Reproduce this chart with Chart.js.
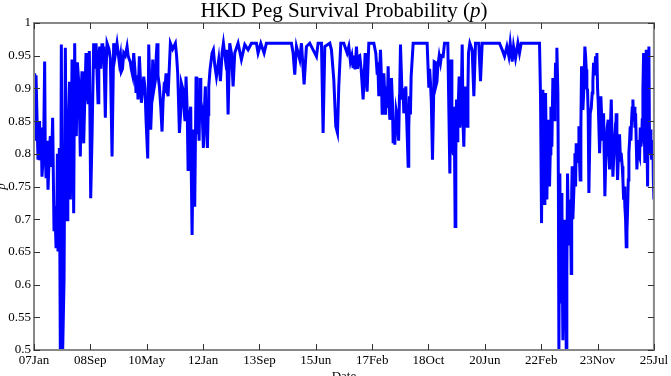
<!DOCTYPE html>
<html lang="en">
<head>
  <meta charset="UTF-8" />
  <title>HKD Peg Survival Probability</title>
  <script src="https://cdn.jsdelivr.net/npm/chart.js"></script>
  <style>
    html, body { margin: 0; padding: 0; background: #fff; }
    #wrap { width: 671px; height: 376px; }
  </style>
</head>
<body>
  <div id="wrap"><canvas id="pegChart" width="671" height="376"></canvas></div>

  <script>
    // date labels under the x ticks (one tick per unit of position)
    const tickLabels = ['07Jan', '08Sep', '10May', '12Jan', '13Sep', '15Jun',
                        '17Feb', '18Oct', '20Jun', '22Feb', '23Nov', '25Jul'];

    // main readings: peaks and troughs, position in tick units (0 = 07Jan, 11 = 25Jul)
    const pos = [
      0, 0.012, 0.036, 0.071, 0.112, 0.142, 0.189, 0.213, 0.249, 0.290, 0.331, 0.355, 0.391, 0.426, 0.450,
      0.467, 0.485, 0.509, 0.533, 0.556, 0.586, 0.615, 0.645, 0.675, 0.704, 0.722, 0.751, 0.793, 0.822,
      0.852, 0.882, 0.923, 0.959, 0.982,
      1.006, 1.030, 1.059, 1.101, 1.136, 1.166, 1.207, 1.237, 1.266, 1.296, 1.355, 1.385, 1.414, 1.473,
      1.515, 1.550, 1.592, 1.651, 1.692, 1.728, 1.769, 1.811, 1.846, 1.870, 1.905, 1.947, 1.988,
      2.018, 2.036, 2.071, 2.107, 2.154, 2.183, 2.225, 2.272, 2.308, 2.343, 2.379, 2.420, 2.509, 2.550,
      2.580, 2.615, 2.657, 2.698, 2.734, 2.781, 2.805, 2.828, 2.852, 2.876, 2.911, 2.947, 2.982,
      3.006, 3.041, 3.077, 3.101, 3.124, 3.160, 3.183, 3.207, 3.237, 3.278, 3.308, 3.337, 3.361, 3.396,
      3.420, 3.444, 3.473, 3.503, 3.533, 3.562, 3.621, 3.680, 3.740, 3.799, 3.858, 3.947, 3.976,
      4.024, 4.083, 4.124, 4.568, 4.598, 4.627, 4.657, 4.716, 4.746, 4.793, 4.834, 4.893, 4.953,
      5.012, 5.041, 5.101, 5.130, 5.160, 5.249, 5.278, 5.320, 5.355, 5.385, 5.408, 5.444, 5.497, 5.556,
      5.586, 5.615, 5.663, 5.698, 5.722, 5.763, 5.805, 5.840, 5.876, 5.911, 5.941,
      6.030, 6.065, 6.089, 6.118, 6.148, 6.178, 6.207, 6.231, 6.254, 6.284, 6.314, 6.343, 6.373, 6.402,
      6.426, 6.456, 6.485, 6.503, 6.533, 6.562, 6.598, 6.621, 6.639, 6.663, 6.692, 6.728, 6.976,
      7.006, 7.036, 7.071, 7.101, 7.130, 7.166, 7.213, 7.260, 7.284, 7.343, 7.379, 7.402, 7.426, 7.450,
      7.473, 7.497, 7.521, 7.544, 7.568, 7.598, 7.627, 7.657, 7.686, 7.710, 7.734, 7.775, 7.805, 7.834,
      7.893, 7.923, 7.953,
      8.260, 8.308, 8.349, 8.391, 8.426, 8.450, 8.485, 8.509, 8.544, 8.586, 8.615, 8.645, 8.970, 8.988,
      9.006, 9.030, 9.053, 9.077, 9.101, 9.124, 9.148, 9.172, 9.189, 9.207, 9.231, 9.254, 9.278, 9.296,
      9.314, 9.331, 9.349, 9.367, 9.385, 9.408, 9.426, 9.444, 9.467, 9.491, 9.515, 9.533, 9.550, 9.574,
      9.598, 9.621, 9.645, 9.669, 9.692, 9.716, 9.740, 9.775, 9.799, 9.822, 9.846, 9.870, 9.905, 9.929,
      9.964, 9.988,
      10.012, 10.036, 10.059, 10.083, 10.107, 10.130, 10.154, 10.189, 10.213, 10.243, 10.272, 10.308,
      10.331, 10.355, 10.379, 10.402, 10.438, 10.462, 10.485, 10.509, 10.533, 10.556, 10.580, 10.604,
      10.627, 10.651, 10.675, 10.698, 10.722, 10.746, 10.769, 10.793, 10.817, 10.840, 10.864, 10.888,
      10.911, 10.935, 10.959, 10.982, 11.0
    ];

    const p = [
      0.878, 0.923, 0.920, 0.791, 0.827, 0.765, 0.941, 0.765, 0.745, 0.827, 0.855, 0.684, 0.658, 0.653, 0.809,
      0.500, 0.967, 0.500, 0.607, 0.962, 0.699, 0.857, 0.730, 0.944, 0.709, 0.969, 0.827, 0.911, 0.796,
      0.926, 0.816, 0.954, 0.878, 0.957,
      0.732, 0.827, 0.969, 0.969, 0.878, 0.964, 0.969, 0.964, 0.855, 0.969, 0.946, 0.796, 0.969, 0.969,
      0.939, 0.926, 0.954, 0.964, 0.944, 0.929, 0.954, 0.893, 0.883, 0.949, 0.878, 0.918, 0.852,
      0.793, 0.967, 0.837, 0.944, 0.913, 0.969, 0.903, 0.834, 0.903, 0.923, 0.888, 0.969, 0.969, 0.923,
      0.832, 0.908, 0.872, 0.918, 0.776, 0.872, 0.676, 0.837, 0.719, 0.918, 0.867, 0.916, 0.867,
      0.809, 0.903, 0.809, 0.903, 0.929, 0.954, 0.959, 0.936, 0.918, 0.944, 0.911, 0.954, 0.969, 0.944,
      0.959, 0.860, 0.969, 0.954, 0.903, 0.954, 0.969, 0.944, 0.967, 0.959, 0.969, 0.969, 0.954,
      0.969, 0.954, 0.969, 0.969, 0.954, 0.921, 0.964, 0.944, 0.969, 0.906, 0.964, 0.969, 0.959,
      0.949, 0.969, 0.969, 0.832, 0.964, 0.969, 0.959, 0.913, 0.842, 0.832, 0.903, 0.969, 0.969, 0.954,
      0.964, 0.941, 0.931, 0.929, 0.964, 0.949, 0.929, 0.883, 0.954, 0.895, 0.969,
      0.969, 0.954, 0.923, 0.888, 0.959, 0.862, 0.923, 0.862, 0.903, 0.934, 0.852, 0.916, 0.816, 0.814,
      0.867, 0.842, 0.888, 0.967, 0.883, 0.862, 0.903, 0.832, 0.781, 0.888, 0.918, 0.969, 0.969,
      0.901, 0.908, 0.791, 0.941, 0.903, 0.934, 0.939, 0.949, 0.969, 0.969, 0.770, 0.944, 0.806, 0.872,
      0.689, 0.883, 0.837, 0.918, 0.852, 0.967, 0.811, 0.903, 0.842, 0.954, 0.969, 0.959, 0.888, 0.969,
      0.969, 0.911, 0.969,
      0.969, 0.959, 0.949, 0.964, 0.949, 0.969, 0.941, 0.964, 0.946, 0.969, 0.954, 0.969, 0.969, 0.888,
      0.694, 0.898, 0.724, 0.893, 0.730, 0.852, 0.750, 0.872, 0.811, 0.916, 0.852, 0.939, 0.962, 0.893,
      0.500, 0.770, 0.571, 0.740, 0.515, 0.699, 0.648, 0.500, 0.770, 0.679, 0.730, 0.617, 0.781, 0.730,
      0.801, 0.816, 0.786, 0.842, 0.760, 0.934, 0.867, 0.964, 0.929, 0.898, 0.740, 0.862, 0.893, 0.939,
      0.949, 0.954,
      0.878, 0.801, 0.888, 0.837, 0.862, 0.735, 0.816, 0.852, 0.776, 0.883, 0.765, 0.827,
      0.862, 0.760, 0.816, 0.801, 0.781, 0.730, 0.719, 0.658, 0.714, 0.801, 0.842, 0.852,
      0.883, 0.872, 0.862, 0.776, 0.821, 0.796, 0.811, 0.852, 0.954, 0.786, 0.959, 0.750,
      0.964, 0.837, 0.791, 0.821, 0.730
    ];

    // extra readings inside the stretches where the line is a dense band
    const bandPos = [
      0.024, 0.090, 0.100, 0.125, 0.165, 0.175, 0.200, 0.230, 0.270, 0.310, 0.370, 0.405, 0.415, 0.440,
      0.570, 0.600, 0.630, 0.660, 0.690, 0.735, 0.770, 0.808, 0.838, 0.867, 0.900, 0.940, 0.970,
      1.080, 1.150, 1.185, 1.220, 1.280, 1.330, 1.440, 1.500, 1.535, 1.570, 1.620, 1.670, 1.710, 1.750, 1.790, 1.830, 1.890, 1.930, 1.970,
      2.050, 2.090, 2.130, 2.170, 2.200, 2.250, 2.290, 2.325, 2.360, 2.400, 2.460, 2.530, 2.565, 2.600, 2.640, 2.680, 2.720, 2.750,
      2.790, 2.840, 2.890, 2.930, 2.960, 3.020, 3.060, 3.090,
      5.640, 5.680, 5.740, 5.780, 5.820, 5.860, 5.890, 6.100, 6.130, 6.160, 6.190, 6.220, 6.240, 6.270,
      6.300, 6.330, 6.360, 6.390, 6.415, 6.440, 6.470, 6.490, 6.520, 6.550, 6.580, 6.610, 6.650, 6.680,
      7.020, 7.050, 7.090, 7.120, 7.150, 7.190, 7.230,
      7.390, 7.415, 7.440, 7.460, 7.485, 7.510, 7.530, 7.555, 7.580, 7.615, 7.640, 7.670, 7.700,
      9.018, 9.042, 9.065, 9.089, 9.112, 9.136, 9.160, 9.180, 9.220, 9.243, 9.266, 9.305,
      9.320, 9.340, 9.358, 9.376, 9.397, 9.417, 9.435, 9.455, 9.479, 9.503, 9.524, 9.541, 9.562, 9.586, 9.610, 9.633, 9.657, 9.680, 9.704,
      9.728, 9.757, 9.787, 9.810, 9.834, 9.858, 9.888, 9.917, 9.946, 9.976, 10.000, 10.024, 10.047,
      10.071, 10.095, 10.118, 10.142, 10.170, 10.200, 10.228, 10.258, 10.290, 10.320, 10.343, 10.367, 10.390,
      10.420, 10.450, 10.474, 10.497, 10.521, 10.545, 10.568, 10.592, 10.615, 10.640, 10.663, 10.686, 10.710,
      10.734, 10.758, 10.781, 10.805, 10.828, 10.852, 10.876, 10.900, 10.923, 10.947, 10.970, 10.990
    ];

    const bandP = [
      0.82, 0.85, 0.79, 0.84, 0.80, 0.84, 0.80, 0.82, 0.80, 0.78, 0.72, 0.70, 0.80, 0.72,
      0.80, 0.76, 0.91, 0.80, 0.88, 0.85, 0.94, 0.86, 0.90, 0.85, 0.88, 0.90, 0.93,
      0.93, 0.95, 0.93, 0.95, 0.93, 0.96, 0.95, 0.95, 0.95, 0.93, 0.95, 0.95, 0.94, 0.92, 0.93, 0.92, 0.91, 0.90, 0.90,
      0.92, 0.88, 0.90, 0.95, 0.92, 0.87, 0.88, 0.90, 0.90, 0.93, 0.96, 0.95, 0.88, 0.86, 0.90, 0.85, 0.86, 0.85,
      0.78, 0.76, 0.83, 0.82, 0.88, 0.86, 0.84, 0.86,
      0.95, 0.95, 0.93, 0.95, 0.91, 0.92, 0.92, 0.94, 0.92, 0.93, 0.88, 0.90, 0.88, 0.87,
      0.88, 0.86, 0.88, 0.85, 0.84, 0.86, 0.82, 0.90, 0.92, 0.90, 0.88, 0.86, 0.84, 0.86,
      0.93, 0.88, 0.88, 0.94, 0.91, 0.95, 0.95,
      0.86, 0.86, 0.80, 0.83, 0.80, 0.82, 0.88, 0.84, 0.88, 0.84, 0.87, 0.85, 0.90,
      0.85, 0.80, 0.78, 0.82, 0.80, 0.82, 0.80, 0.85, 0.90, 0.88, 0.92, 0.75,
      0.62, 0.66, 0.70, 0.60, 0.60, 0.56, 0.60, 0.62, 0.71, 0.66, 0.69, 0.74, 0.70, 0.76, 0.75, 0.80, 0.80, 0.79, 0.84,
      0.90, 0.90, 0.95, 0.90, 0.86, 0.80, 0.87, 0.91, 0.92, 0.93, 0.90, 0.84, 0.83,
      0.86, 0.82, 0.80, 0.78, 0.84, 0.80, 0.84, 0.82, 0.80, 0.82, 0.80, 0.79, 0.83,
      0.80, 0.76, 0.75, 0.70, 0.68, 0.76, 0.82, 0.82, 0.87, 0.85, 0.84, 0.82, 0.80,
      0.80, 0.84, 0.82, 0.90, 0.84, 0.88, 0.82, 0.90, 0.80, 0.82, 0.80, 0.76
    ];

    const serif = "'Liberation Serif', 'Times New Roman', serif";

    // merge both sets of readings in date order
    const series = pos.map((v, i) => ({ x: v, y: p[i] }))
      .concat(bandPos.map((v, i) => ({ x: v, y: bandP[i] })))
      .sort((a, b) => a.x - b.x);

    // title with an italic p, centred over the plot area
    const titlePlugin = {
      id: 'mixedTitle',
      afterDraw(chart) {
        const { ctx, chartArea } = chart;
        const parts = [
          { text: 'HKD Peg Survival Probability (', font: '21px ' + serif },
          { text: 'p', font: 'italic 21px ' + serif },
          { text: ')', font: '21px ' + serif }
        ];
        ctx.save();
        ctx.fillStyle = '#000';
        ctx.textBaseline = 'alphabetic';
        let total = 0;
        parts.forEach(pt => { ctx.font = pt.font; pt.w = ctx.measureText(pt.text).width; total += pt.w; });
        let x = (chartArea.left + chartArea.right) / 2 - total / 2;
        parts.forEach(pt => { ctx.font = pt.font; ctx.fillText(pt.text, x, 17); x += pt.w; });
        ctx.restore();
      }
    };

    // matlab style box with inward ticks on all four sides
    const boxPlugin = {
      id: 'boxAxes',
      afterDraw(chart) {
        const { ctx, chartArea: a, scales: { x, y } } = chart;
        ctx.save();
        ctx.strokeStyle = '#888';
        ctx.lineWidth = 2;
        ctx.strokeRect(a.left, a.top, a.right - a.left, a.bottom - a.top);
        ctx.strokeStyle = '#333';
        ctx.lineWidth = 1;
        ctx.beginPath();
        x.ticks.forEach(t => {
          const px = Math.round(x.getPixelForValue(t.value)) + 0.5;
          ctx.moveTo(px, a.bottom); ctx.lineTo(px, a.bottom - 6);
          ctx.moveTo(px, a.top); ctx.lineTo(px, a.top + 6);
        });
        y.ticks.forEach(t => {
          const py = Math.round(y.getPixelForValue(t.value)) + 0.5;
          ctx.moveTo(a.left, py); ctx.lineTo(a.left + 6, py);
          ctx.moveTo(a.right, py); ctx.lineTo(a.right - 6, py);
        });
        ctx.stroke();
        ctx.restore();
      }
    };

    const ctx = document.getElementById('pegChart').getContext('2d');
    new Chart(ctx, {
      type: 'line',
      data: {
        datasets: [{
          data: series,
          borderColor: '#0000ff',
          borderWidth: 3,
          pointRadius: 0,
          tension: 0,
          fill: false
        }]
      },
      options: {
        responsive: false,
        animation: false,
        layout: { padding: { top: 23, right: 17, left: 0, bottom: 0 } },
        plugins: { legend: { display: false }, tooltip: { enabled: false }, title: { display: false } },
        scales: {
          x: {
            type: 'linear',
            min: 0,
            max: 11,
            afterFit: s => { s.height = 26; },
            grid: { display: false, drawTicks: false },
            border: { display: false },
            ticks: {
              stepSize: 1,
              padding: 3,
              maxRotation: 0,
              autoSkip: false,
              color: '#000',
              font: { family: serif, size: 13 },
              callback: v => tickLabels[v]
            },
            title: { display: true, text: 'Date', color: '#000', font: { family: serif, size: 13 }, padding: { top: 0, bottom: -8 } }
          },
          y: {
            min: 0.5,
            max: 1,
            afterFit: s => { s.width = 34; },
            grid: { display: false, drawTicks: false },
            border: { display: false },
            ticks: {
              stepSize: 0.05,
              padding: 3,
              color: '#000',
              font: { family: serif, size: 13 },
              callback: v => String(+v.toFixed(2))
            },
            title: { display: true, text: 'p', color: '#000', font: { family: serif, size: 13, style: 'italic' }, padding: { top: -6, bottom: 0 } }
          }
        }
      },
      plugins: [titlePlugin, boxPlugin]
    });
  </script>
</body>
</html>
